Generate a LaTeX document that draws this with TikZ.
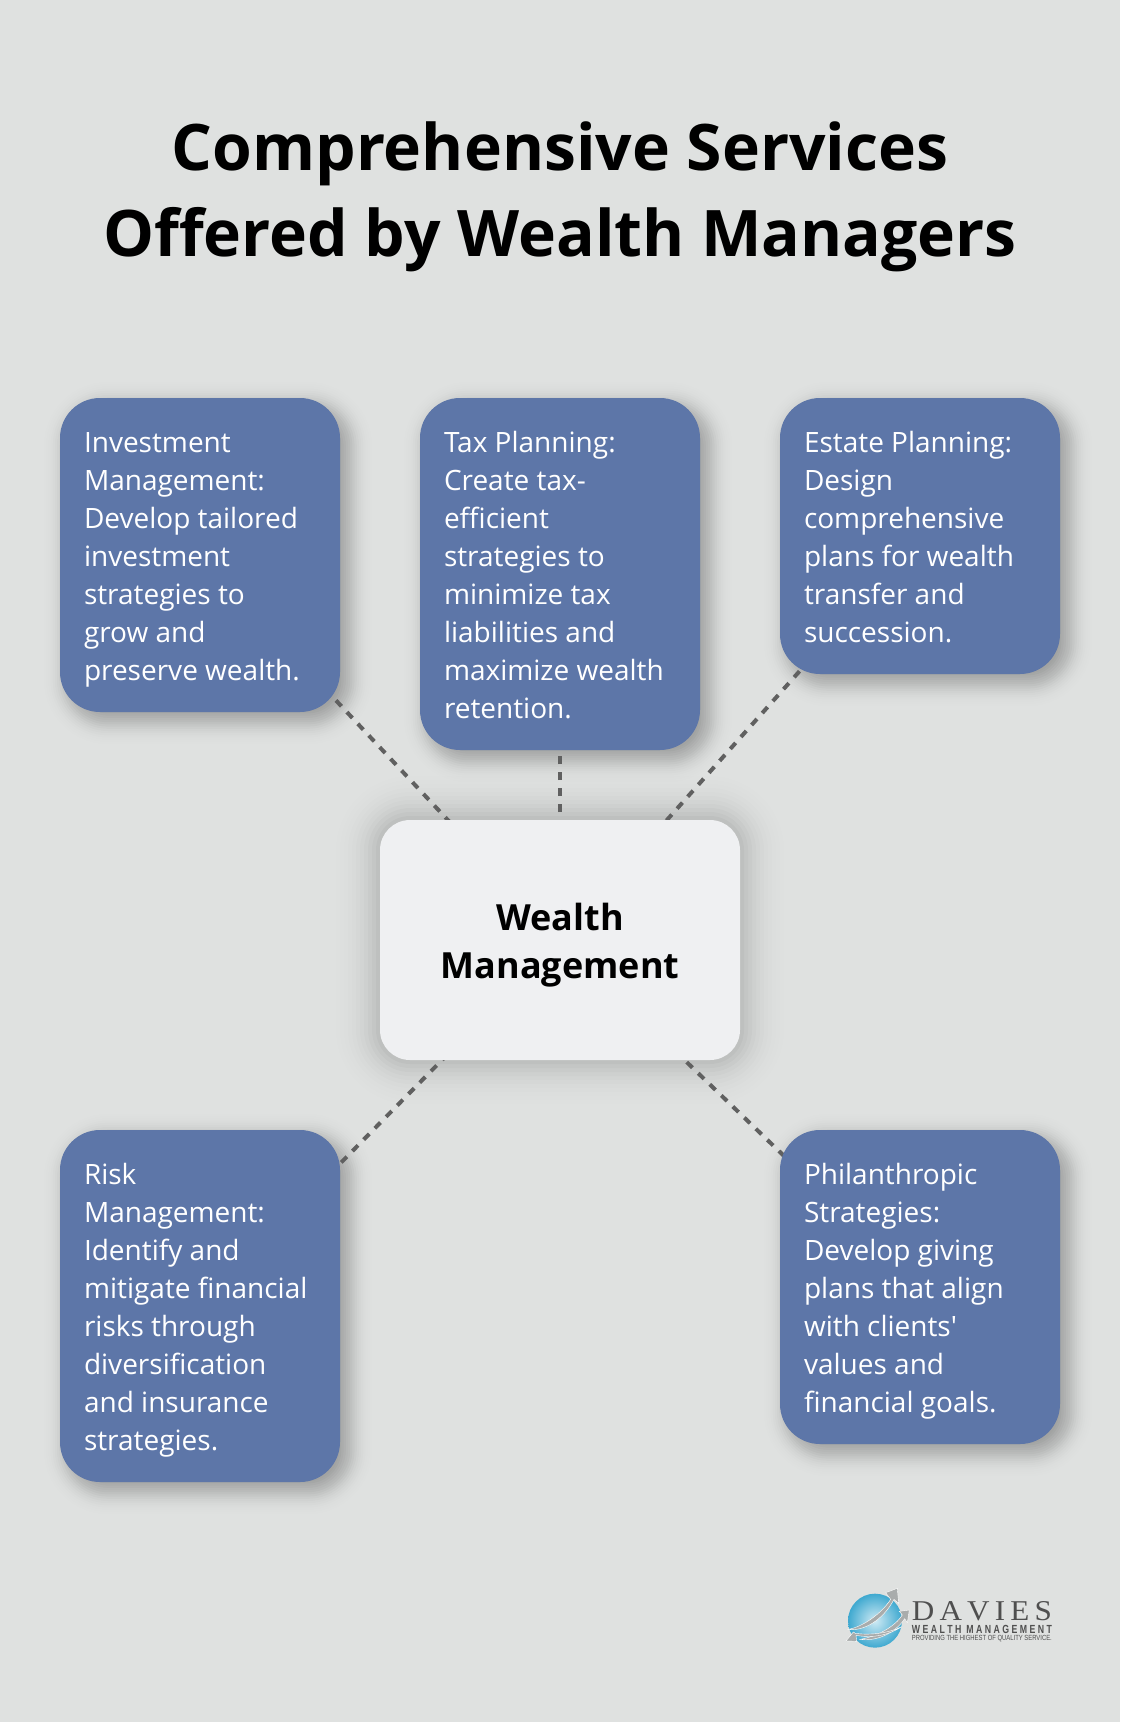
\documentclass[tikz,border=0pt]{standalone}
\usepackage{fontspec}
\usepackage{graphicx}
\newfontfamily\opensans{Open Sans}
\newfontfamily\logoserif{Liberation Serif}
\newfontfamily\logosans{Liberation Sans}
\usetikzlibrary{calc}
\definecolor{pagebg}{HTML}{DFE1E0}
\definecolor{bluebox}{HTML}{5D76A8}
\definecolor{centerbox}{HTML}{EFF0F2}
\definecolor{linegray}{HTML}{606060}
\definecolor{swoosh}{HTML}{A9ACAC}
\definecolor{logotext}{HTML}{4F4F4F}
\definecolor{globeA}{HTML}{CFEAF4}
\definecolor{globeB}{HTML}{3FA9D0}
\pgfdeclarelayer{shadowlayer}
\pgfdeclarelayer{linelayer}
\pgfsetlayers{shadowlayer,linelayer,main}
\tikzset{
  x=1pt,y=-1pt,
  servicebox/.style={rectangle,rounded corners=40pt,fill=bluebox,text=white,
    minimum width=280pt,inner sep=0pt,outer sep=0pt,anchor=north west},
  centrebox/.style={rectangle,rounded corners=30pt,fill=centerbox,text=black,
    minimum width=360pt,minimum height=240pt,inner sep=0pt,outer sep=0pt,align=center,
    font=\opensans\fontsize{36}{48}\selectfont\bfseries},
  link/.style={draw=linegray,line width=4pt,dash pattern=on 8pt off 8pt},
  swooshpart/.style={fill=swoosh,draw=white,line width=0.4pt},
}
\newcommand{\servtext}[2]{\hspace*{24pt}\parbox[c][#1pt][t]{256pt}{\raggedright\opensans\fontsize{28}{38.14}\selectfont\rule{0pt}{54pt}#2\par}}
\newcommand{\softshadow}[6]{% node, dx, dy, sigma, total alpha, radius
  \begin{pgfonlayer}{shadowlayer}
  \foreach \k in {-12,...,12}{
    \pgfmathsetmacro{\i}{\k*#4/5}
    \pgfmathsetmacro{\op}{#5*0.2/sqrt(2*pi)*exp(-0.5*(\k/5)*(\k/5))}
    \pgfmathsetmacro{\rr}{max(2,#6+\i)}
    \pgfmathsetmacro{\xa}{#2-\i}
    \pgfmathsetmacro{\ya}{#3-\i}
    \pgfmathsetmacro{\xb}{#2+\i}
    \pgfmathsetmacro{\yb}{#3+\i}
    \fill[black,fill opacity=\op,rounded corners=\rr pt]
      ([shift={(\xa,\ya)}]#1.north west) rectangle ([shift={(\xb,\yb)}]#1.south east);
  }
  \end{pgfonlayer}
}
\begin{document}
\begin{tikzpicture}
\useasboundingbox (0,0) rectangle (1120,1722);
\begin{pgfonlayer}{shadowlayer}
\fill[pagebg] (0,0) rectangle (1120,1722);
\end{pgfonlayer}

\node[align=center,font=\opensans\fontsize{64.2}{86}\selectfont\bfseries,text=black] (title) at (560,197)
  {Comprehensive Services\\Offered by Wealth Managers};

\node[centrebox] (hub) at (560,940) {\rule{0pt}{38pt}Wealth\\Management};

\node[servicebox,minimum height=314pt] (inv) at (60,398) {\servtext{314}{Investment\\Management:\\Develop tailored\\investment\\strategies to\\grow and\\preserve wealth.}};
\node[servicebox,minimum height=352pt] (tax) at (420,398) {\servtext{352}{Tax Planning:\\Create tax-\\efficient\\strategies to\\minimize tax\\liabilities and\\maximize wealth\\retention.}};
\node[servicebox,minimum height=276pt] (est) at (780,398) {\servtext{276}{Estate Planning:\\Design\\comprehensive\\plans for wealth\\transfer and\\succession.}};
\node[servicebox,minimum height=352pt] (risk) at (60,1130) {\servtext{352}{Risk\\Management:\\Identify and\\mitigate financial\\risks through\\diversification\\and insurance\\strategies.}};
\node[servicebox,minimum height=314pt] (phil) at (780,1130) {\servtext{314}{Philanthropic\\Strategies:\\Develop giving\\plans that align\\with clients'\\values and\\financial goals.}};

\softshadow{inv}{8}{8}{11}{0.34}{40}
\softshadow{tax}{8}{8}{11}{0.34}{40}
\softshadow{est}{8}{8}{11}{0.34}{40}
\softshadow{risk}{8}{8}{11}{0.34}{40}
\softshadow{phil}{8}{8}{11}{0.34}{40}
\softshadow{hub}{0}{0}{20}{0.28}{30}

\begin{pgfonlayer}{linelayer}
\draw[link] (hub.center) -- (inv.center);
\draw[link] (hub.center) -- (tax.center);
\draw[link] (hub.center) -- (est.center);
\draw[link] (hub.center) -- (risk.center);
\draw[link] (hub.center) -- (phil.center);
\end{pgfonlayer}

% logo
\begin{scope}[shift={(820,1570)},x=0.3333pt,y=-0.3333pt]
  \shade[inner color=globeA,outer color=globeB] (165,152) circle (81);
  \fill[swooshpart] (85,178) .. controls (130,170) and (185,130) .. (212,88) -- (197,68) -- (232,55) -- (236,100) -- (222,88) .. controls (190,150) and (130,185) .. (85,178) -- cycle;
  \fill[swooshpart] (120,208) .. controls (170,200) and (225,170) .. (247,135) -- (238,124) -- (268,120) -- (262,158) -- (254,146) .. controls (225,190) and (170,215) .. (120,208) -- cycle;
  \fill[swooshpart] (245,170) .. controls (205,196) and (160,205) .. (108,196) -- (110,214) -- (78,213) -- (100,186) -- (106,190) .. controls (150,196) and (205,190) .. (245,170) -- cycle;
  \node[inner sep=0pt,anchor=south west,text=logotext] (logoname) at (275,152) {\resizebox{140pt}{19pt}{\logoserif D\,A\,V\,I\,E\,S}};
  \node[inner sep=0pt,anchor=south west,text=logotext] (logotag) at (275,190) {\resizebox{140pt}{8.2pt}{\logosans\bfseries W E A L T H\ \ M A N A G E M E N T}};
  \node[inner sep=0pt,anchor=south west,text=logotext] (logosub) at (275,215) {\resizebox{140pt}{5.2pt}{\logosans PROVIDING THE HIGHEST OF QUALITY SERVICE.}};
\end{scope}
\end{tikzpicture}
\end{document}
